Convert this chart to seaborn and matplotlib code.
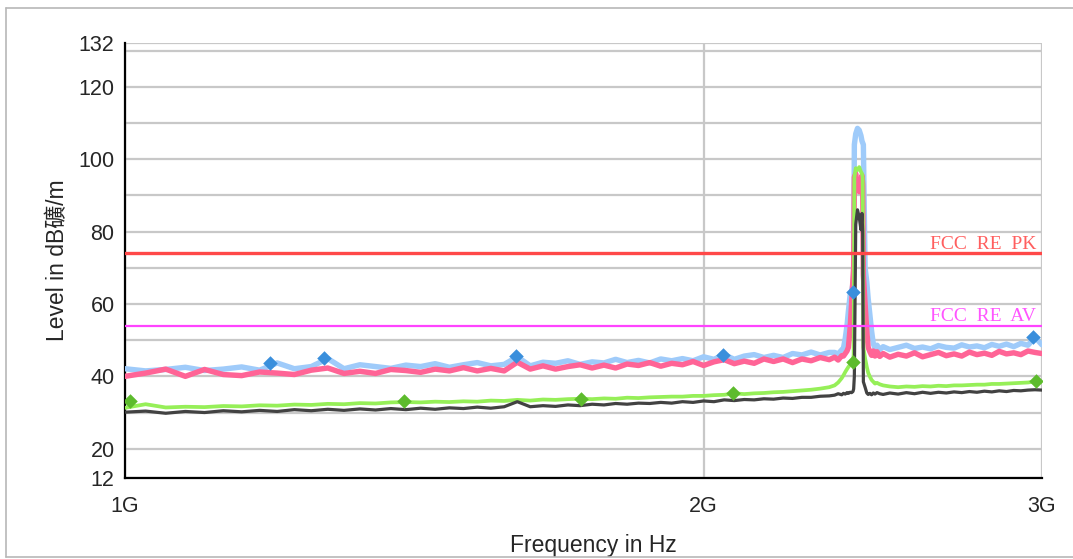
import numpy as np
import pandas as pd
import matplotlib
matplotlib.use("Agg")
import matplotlib.pyplot as plt
from matplotlib.ticker import NullLocator
import seaborn as sns

# sweep points (MHz)
freq_mhz = [1000, 1025, 1050, 1075, 1100, 1125, 1150, 1175, 1200, 1225, 1250, 1275, 1300, 1325,
            1350, 1375, 1400, 1425, 1450, 1475, 1500, 1525, 1550, 1575, 1600, 1625, 1650, 1675,
            1700, 1725, 1750, 1775, 1800, 1825, 1850, 1875, 1900, 1925, 1950, 1975, 2000, 2025,
            2050, 2075, 2100, 2125, 2150, 2175, 2200, 2225, 2250, 2275, 2300, 2325,
            2340, 2350, 2360, 2365, 2370, 2375, 2379, 2384, 2388, 2392, 2394, 2396, 2400, 2405,
            2410, 2415, 2418, 2420, 2422, 2427, 2432, 2436, 2441, 2446, 2451, 2456, 2462, 2470,
            2480, 2500, 2525, 2550, 2575, 2600, 2625, 2650, 2675, 2700, 2725, 2750, 2775, 2800,
            2825, 2850, 2875, 2900, 2925, 2950, 2975, 3000]

# horizontal polarisation peak (light blue)
trace_pk_max = [42.1, 41.5, 41.9, 42.5, 41.6, 42.0, 42.6, 41.7, 43.7, 42.1, 42.7, 44.9, 42.1, 43.2,
                42.7, 42.2, 43.1, 42.7, 43.5, 42.5, 43.2, 43.8, 42.9, 43.3, 45.4, 42.9, 43.9, 43.6,
                44.3, 43.3, 44.0, 43.7, 44.7, 43.8, 44.4, 43.7, 44.8, 44.3, 44.9, 44.3, 45.4, 44.7,
                46.0, 44.7, 45.6, 46.0, 45.2, 45.8, 45.2, 46.3, 45.9, 46.7, 45.9, 46.6,
                46.6, 46.2, 47.3, 47.8, 50.5, 54.0, 58.0, 62.5, 63.5, 65.5, 68.0, 104.0, 107.0, 108.5,
                108.0, 106.5, 105.0, 104.5, 104.0, 70.0, 66.0, 61.5, 57.0, 52.5, 49.0, 47.8, 48.6, 47.4,
                48.2, 47.4, 48.0, 48.6, 47.7, 48.1, 47.6, 48.5, 48.0, 47.8, 48.7, 48.1, 48.4, 47.9,
                48.8, 48.3, 48.9, 48.2, 49.1, 48.6, 50.8, 48.7]

# vertical polarisation peak (pink)
trace_pk_ver = [40.0, 40.9, 42.0, 40.0, 41.9, 40.5, 40.2, 41.2, 40.9, 40.5, 41.7, 42.3, 40.8, 41.4,
                40.8, 41.9, 41.6, 41.1, 42.0, 41.5, 42.4, 41.5, 42.2, 41.5, 43.9, 42.0, 42.9, 42.0,
                42.7, 43.2, 42.3, 43.1, 42.3, 43.4, 43.0, 43.8, 42.8, 43.6, 43.2, 44.1, 43.0, 44.0,
                44.6, 43.5, 44.2, 43.6, 44.8, 44.1, 44.8, 43.8, 44.8, 44.3, 45.2, 44.6,
                45.3, 44.5, 45.7, 45.6, 46.3, 47.0, 48.0, 53.5, 60.0, 67.0, 70.0, 95.0, 96.0, 92.5,
                91.0, 94.0, 95.5, 93.0, 68.0, 60.0, 52.5, 48.0, 46.8, 45.8, 47.0, 45.6, 46.8, 45.5,
                46.3, 45.3, 46.1, 45.6, 46.5, 45.4, 46.0, 46.6, 45.7, 46.2, 45.6, 46.7, 46.0, 46.4,
                45.8, 46.9, 46.2, 46.5, 46.0, 47.0, 46.6, 46.3]

# average detector, horizontal (green)
trace_av_hor = [31.3, 32.3, 31.4, 31.6, 31.5, 31.8, 31.7, 32.0, 31.9, 32.2, 32.1, 32.4, 32.3, 32.6,
                32.5, 32.8, 32.9, 32.8, 33.0, 32.9, 33.1, 33.0, 33.3, 33.2, 33.5, 33.3, 33.6, 33.5,
                33.7, 33.8, 33.7, 33.9, 33.8, 34.1, 34.0, 34.2, 34.3, 34.4, 34.4, 34.6, 34.6, 34.8,
                34.9, 35.3, 35.1, 35.3, 35.4, 35.6, 35.7, 35.9, 36.1, 36.3, 36.6, 37.0,
                37.5, 38.3, 39.5, 40.3, 41.2, 42.0, 42.6, 43.2, 43.6, 44.2, 46.0, 95.0, 97.5, 97.0,
                97.8, 96.5, 96.0, 95.0, 48.0, 45.0, 42.6, 41.0, 39.9, 39.0, 38.5, 38.0, 38.2, 37.8,
                37.5, 37.2, 37.0, 37.2, 37.1, 37.3, 37.2, 37.4, 37.3, 37.5, 37.5, 37.6, 37.7, 37.7,
                37.9, 37.9, 38.0, 38.1, 38.2, 38.3, 38.6, 38.4]

# average detector, vertical (dark grey)
trace_av_ver = [30.1, 30.4, 29.8, 30.3, 30.0, 30.5, 30.2, 30.6, 30.3, 30.8, 30.5, 30.9, 30.6, 31.0,
                30.7, 31.1, 30.8, 31.2, 30.9, 31.3, 31.1, 31.5, 31.2, 31.6, 33.0, 31.6, 31.9, 31.7,
                32.1, 31.9, 32.3, 32.1, 32.5, 32.3, 32.6, 32.5, 32.8, 32.6, 33.0, 32.8, 33.2, 33.0,
                33.5, 33.3, 33.6, 33.5, 33.8, 33.7, 34.0, 33.9, 34.2, 34.2, 34.5, 34.6,
                34.8, 35.2, 34.9, 35.3, 35.1, 35.5, 35.3, 35.6, 35.5, 35.8, 36.5, 40.0, 82.0, 86.0,
                84.0, 80.5, 85.0, 80.0, 38.5, 37.0, 35.4, 35.0, 35.3, 34.9, 35.4, 35.1, 35.5, 35.2,
                35.0, 35.4, 35.1, 35.5, 35.2, 35.6, 35.3, 35.6, 35.4, 35.7, 35.5, 35.8, 35.6, 35.9,
                35.7, 36.0, 35.8, 36.1, 36.0, 36.2, 36.3, 36.2]

# final measurement markers
pk_mark_freq = [1190, 1269, 1597, 2047, 2391, 2969]
pk_mark_level = [43.7, 45.0, 45.5, 46.0, 63.3, 51.0]
av_mark_freq = [1006, 1397, 1726, 2071, 2393, 2978]
av_mark_level = [33.2, 33.2, 33.8, 35.4, 43.9, 38.7]

limit_pk = 74
limit_av = 54
limit_pk_name = "FCC  RE  PK"
limit_av_name = "FCC  RE  AV"

y_ticks = [12, 20, 30, 40, 50, 60, 70, 80, 90, 100, 110, 120, 130, 132]
y_labels = ["12", "20", "", "40", "", "60", "", "80", "", "100", "", "120", "", "132"]
x_ticks = [1000, 2000, 3000]
x_labels = ["1G", "2G", "3G"]

sns.set_style("white")
plt.rcParams["font.family"] = ["Liberation Sans", "Noto Sans CJK SC", "DejaVu Sans"]

traces = pd.DataFrame({
    "freq": freq_mhz,
    "pk_max": trace_pk_max,
    "pk_ver": trace_pk_ver,
    "av_hor": trace_av_hor,
    "av_ver": trace_av_ver,
})

fig = plt.figure(figsize=(10.73, 5.59), dpi=100)
ax = fig.add_axes([125 / 1073, 1 - 477.7 / 559, 917 / 1073, 434.4 / 559])

styles = [("pk_max", "#9fcbfa", 3.9), ("pk_ver", "#ff6496", 3.9),
          ("av_hor", "#96ef58", 2.7), ("av_ver", "#424242", 2.3)]
for col, c, lw in styles:
    sns.lineplot(data=traces, x="freq", y=col, ax=ax, color=c, lw=lw,
                 errorbar=None, legend=False, zorder=3)

sns.scatterplot(x=pk_mark_freq, y=pk_mark_level, ax=ax, marker="D", s=55,
                color="#3a8fdc", linewidth=0, zorder=6)
sns.scatterplot(x=av_mark_freq, y=av_mark_level, ax=ax, marker="D", s=55,
                color="#5dbb2d", linewidth=0, zorder=6)

ax.axhline(limit_pk, color="#ff4848", lw=2.4, zorder=4)
ax.axhline(limit_av, color="#ff44ff", lw=1.6, zorder=4)
ax.annotate(limit_pk_name, xy=(1.0, limit_pk), xycoords=("axes fraction", "data"),
            xytext=(-4, 3), textcoords="offset points", ha="right", va="baseline",
            color="#ff5f5f", fontsize=14, family="Liberation Serif")
ax.annotate(limit_av_name, xy=(1.0, limit_av), xycoords=("axes fraction", "data"),
            xytext=(-4, 3), textcoords="offset points", ha="right", va="baseline",
            color="#ff55ff", fontsize=14, family="Liberation Serif")

ax.set_xscale("log")
ax.set_xlim(1000, 3000)
ax.set_ylim(12, 132)
ax.xaxis.set_minor_locator(NullLocator())
ax.set_xticks(x_ticks)
ax.set_xticklabels(x_labels)
ax.set_yticks(y_ticks)
ax.set_yticklabels(y_labels)

ax.grid(True, color="#c8c8c8", lw=1.6)
ax.set_axisbelow(True)
ax.tick_params(axis="both", direction="inout", length=11, width=1.5, color="black",
               labelsize=15.5)
ax.tick_params(axis="x", pad=8)
ax.tick_params(axis="y", pad=2)
for side in ["top", "right"]:
    ax.spines[side].set_visible(False)
for side in ["left", "bottom"]:
    ax.spines[side].set_color("black")
    ax.spines[side].set_linewidth(1.6)

ax.set_xlabel("Frequency in Hz", fontsize=16.5)
ax.set_ylabel("Level in dB礦/m", fontsize=16.5)
ax.xaxis.set_label_coords(0.511, -0.13)
ax.yaxis.set_label_coords(-0.061, 0.5)

# outer frame of the report picture
frame = dict(transform=fig.transFigure, color="#b8b8b8", lw=1.2)
fig.add_artist(plt.Line2D([6 / 1073, 1], [1 - 8 / 559, 1 - 8 / 559], **frame))
fig.add_artist(plt.Line2D([6 / 1073, 6 / 1073], [1 - 8 / 559, 2 / 559], **frame))
fig.add_artist(plt.Line2D([6 / 1073, 1], [2 / 559, 2 / 559], **frame))

fig.savefig("out.png", dpi=100)
plt.close(fig)
